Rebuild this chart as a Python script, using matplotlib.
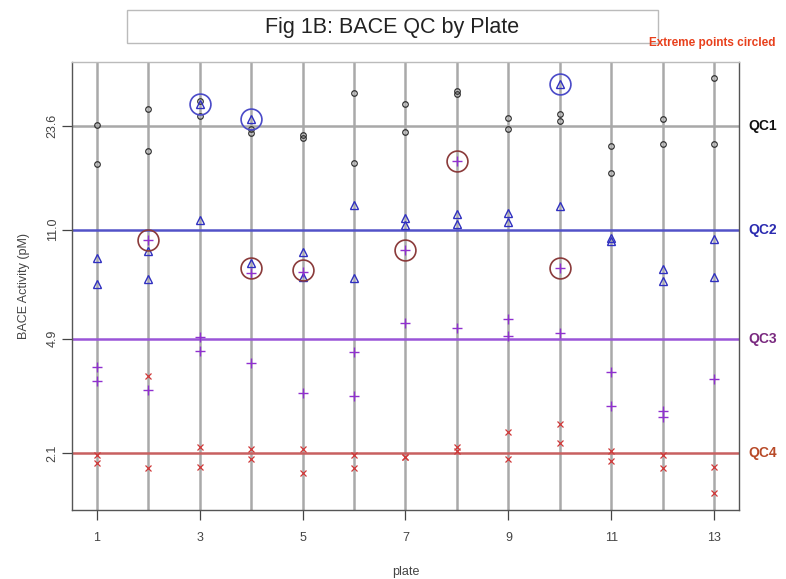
import numpy as np
import matplotlib
matplotlib.use("Agg")
import matplotlib.pyplot as plt
from matplotlib.patches import Rectangle

plt.rcParams['font.family'] = ['Liberation Sans', 'DejaVu Sans']

plates = list(range(1, 14))

# QC readings per plate (pM)
qc1 = [[23.9, 17.8], [26.9, 19.7], [28.5, 25.5], [23.1, 22.4], [22.1, 21.6],
       [30.3, 18.0], [27.8, 22.7], [30.6, 29.9], [25.2, 23.2], [25.8, 24.5],
       [20.4, 16.7], [25.0, 20.7], [33.7, 20.7]]
qc2 = [[8.94, 7.36], [9.35, 7.64], [27.8, 11.8], [25.0, 8.58], [9.28, 7.75],
       [13.2, 7.67], [12.0, 11.4], [12.3, 11.5], [12.4, 11.6], [32.2, 13.1],
       [10.3, 10.1], [8.20, 7.54], [10.25, 7.73]]
qc3 = [[3.98, 3.58], [10.2, 3.35], [4.95, 4.49], [7.97, 4.09], [8.04, 3.28],
       [4.43, 3.21], [9.42, 5.52], [18.3, 5.32], [5.66, 5.01], [8.27, 5.13],
       [3.84, 2.99], [2.87, 2.74], [3.64]]
qc4 = [[2.07, 1.96], [3.72, 1.88], [2.20, 1.90], [2.16, 2.02], [2.16, 1.81],
       [2.08, 1.89], [2.05, 2.04], [2.20, 2.14], [2.46, 2.01], [2.60, 2.26],
       [2.14, 1.98], [2.07, 1.89], [1.90, 1.56]]

qc_names = ['QC1', 'QC2', 'QC3', 'QC4']
qc_targets = [23.6, 11.0, 4.9, 2.1]
qc_tick_labels = ['23.6', '11.0', '4.9', '2.1']

# extreme points that were circled
hi_plate = [3, 4, 10]
hi_val = [27.8, 25.0, 32.2]
mid_plate = [2, 4, 5, 7, 8, 10]
mid_val = [10.2, 8.27, 8.16, 9.42, 18.3, 8.27]


def flatten(series):
    xs, ys = [], []
    for p, vals in zip(plates, series):
        for v in vals:
            xs.append(p)
            ys.append(v)
    return xs, ys


fig = plt.figure(figsize=(7.86, 5.79), dpi=100)
ax = fig.add_axes([72 / 786, 1 - 510 / 579, 667 / 786, 448 / 579])
ax.set_yscale('log')

line_cols = ['#a8a8a8', '#5252c8', '#9a55d8', '#c86060']
label_cols = ['#111111', '#2b2bb0', '#7a2a80', '#b84a28']

for p in plates:
    ax.axvline(p, color='#a9a9a9', lw=1.8, zorder=1)
for t, c in zip(qc_targets, line_cols):
    ax.axhline(t, color=c, lw=1.8, zorder=1)

x, y = flatten(qc1)
ax.plot(x, y, 'o', ms=4, mfc='none', mec='#333333', mew=0.9, zorder=3)
x, y = flatten(qc2)
ax.plot(x, y, '^', ms=6, mfc='none', mec='#3030c0', mew=1.0, zorder=3)
x, y = flatten(qc3)
ax.plot(x, y, '+', ms=7, color='#9030d0', mew=1.0, zorder=3)
x, y = flatten(qc4)
ax.plot(x, y, 'x', ms=4.5, color='#d03838', mew=0.9, zorder=3)

ax.plot(hi_plate, hi_val, 'o', ms=15, mfc='none', mec='#4a4ac8', mew=1.2, zorder=4)
ax.plot(mid_plate, mid_val, 'o', ms=15, mfc='none', mec='#8a3a3a', mew=1.2, zorder=4)

ax.set_xlim(0.52, 13.48)
ax.set_ylim(1.38, 38.0)
ax.set_xticks(range(1, 14, 2))
ax.set_yticks(qc_targets)
ax.set_yticklabels(qc_tick_labels, rotation=90, va='center')
ax.minorticks_off()
ax.tick_params(colors='#444444', labelsize=9, length=7, width=0.9)
ax.tick_params(axis='x', pad=9)
ax.tick_params(axis='y', pad=2.5)
for s in ax.spines.values():
    s.set_color('#555555')
    s.set_linewidth(1.0)
ax.spines['top'].set_color('#bbbbbb')
ax.set_xlabel('plate', fontsize=9, color='#444444', labelpad=16)
ax.set_ylabel('BACE Activity (pM)', fontsize=9, color='#444444', labelpad=12)

for name, t, c in zip(qc_names, qc_targets, label_cols):
    ax.text(1.014, t, name, transform=ax.get_yaxis_transform(), color=c,
            fontsize=10, fontweight='bold', va='center', ha='left')

fig.patches.append(Rectangle((127 / 786, 1 - 43 / 579), 531 / 786, 33 / 579,
                             transform=fig.transFigure, fill=False,
                             edgecolor='#bbbbbb', lw=1.0))
fig.text(392 / 786, 1 - 27 / 579, 'Fig 1B: BACE QC by Plate', ha='center',
         va='center', fontsize=15.5, color='#222222')
fig.text(712 / 786, 1 - 43 / 579, 'Extreme points circled', ha='center',
         va='center', fontsize=8.5, fontweight='bold', color='#e8401c')

fig.savefig('out.png', dpi=100)
